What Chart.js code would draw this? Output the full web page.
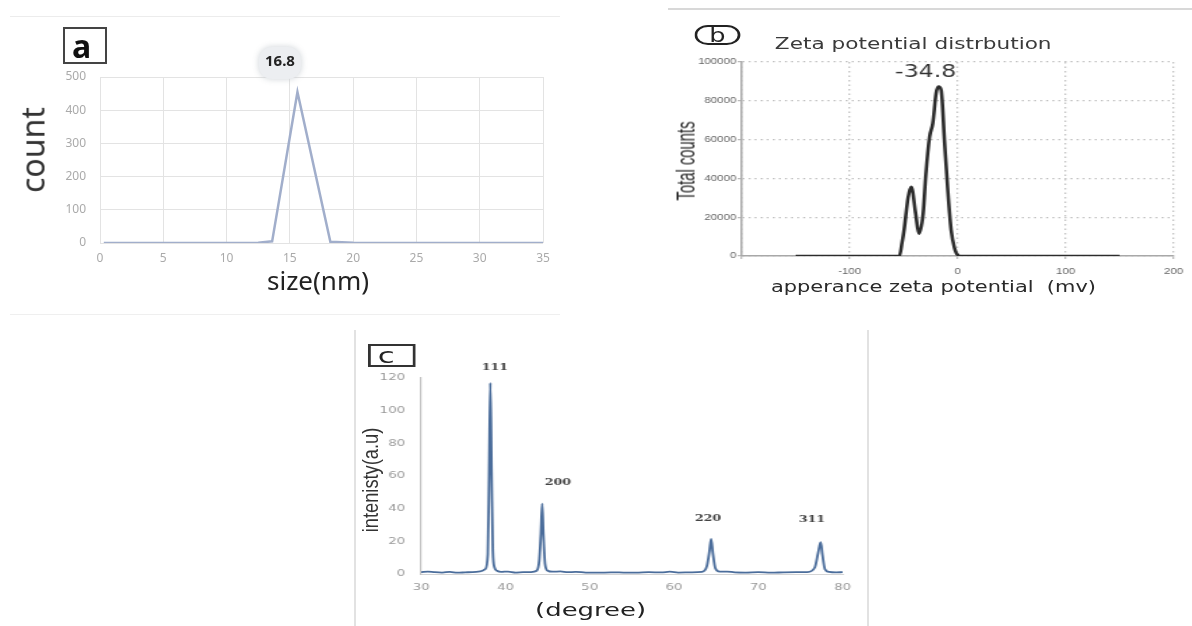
<!DOCTYPE html>
<html>
<head>
<meta charset="utf-8">
<script src="https://cdn.jsdelivr.net/npm/chart.js@4.4.1/dist/chart.umd.min.js"></script>
<style>
  html, body { margin: 0; padding: 0; background: #fff; }
  body { width: 1192px; height: 626px; position: relative; overflow: hidden; }
  .panel { position: absolute; transform-origin: 0 0; }
  .panel canvas { position: absolute; left: 0; top: 0; }
  .txt { position: absolute; white-space: nowrap; line-height: 1; }
  .rule { position: absolute; }
  .tag { position: absolute; box-sizing: border-box; display: flex; align-items: center; }
</style>
</head>
<body>

<!-- faint frame lines of the composite figure -->
<div class="rule" style="left:10px;top:16px;width:550px;height:1px;background:#ececec"></div>
<div class="rule" style="left:10px;top:314px;width:550px;height:1px;background:#efefef"></div>
<div class="rule" style="left:668px;top:8px;width:524px;height:1.5px;background:#d8d8d8"></div>
<div class="rule" style="left:354px;top:330px;width:2px;height:296px;background:#e2e2e2"></div>
<div class="rule" style="left:867px;top:330px;width:2px;height:296px;background:#e2e2e2"></div>

<!-- a : size distribution -->
<div class="panel" id="pa" style="left:0;top:0;width:560px;height:320px">
  <canvas id="chartA" width="560" height="320"></canvas>
  <div class="tag" style="left:63px;top:27px;width:44px;height:37px;border:2px solid #444;padding-left:7px;font:bold 32px 'Noto Sans';color:#111">a</div>
  <div class="txt" style="left:32px;top:150px;transform:translate(-50%,-50%) rotate(-90deg);font:32px 'Noto Sans';color:#333">count</div>
  <div class="txt" style="left:318px;top:280px;transform:translate(-50%,-50%);font:26px 'Noto Sans';color:#222">size(nm)</div>
</div>

<!-- b : zeta potential (source figure is stretched horizontally) -->
<div class="panel" id="pb" style="left:600px;top:0;width:440px;height:320px;transform:scaleX(1.35)">
  <canvas id="chartB" width="440" height="320"></canvas>
  <div class="tag" style="left:70px;top:25px;width:34px;height:20px;border:2.5px solid #222;border-radius:10px;justify-content:center;font:19px 'DejaVu Sans';color:#222">b</div>
  <div class="txt" style="left:232px;top:43px;transform:translate(-50%,-50%);font:16px 'DejaVu Sans';color:#3a3a3a">Zeta potential distrbution</div>
  <div class="txt" style="left:64px;top:161px;transform:translate(-50%,-50%) rotate(-90deg) scaleX(0.78);font:19px 'Liberation Sans';color:#2e2e2e">Total counts</div>
  <div class="txt" style="left:247px;top:287px;transform:translate(-50%,-50%);font:15.5px 'DejaVu Sans';color:#2a2a2a">apperance zeta potential&nbsp;&nbsp;(mv)</div>
</div>

<!-- c : XRD pattern (source figure is stretched horizontally) -->
<div class="panel" id="pc" style="left:340px;top:320px;width:386px;height:306px;transform:scaleX(1.4)">
  <canvas id="chartC" width="386" height="306"></canvas>
  <div class="tag" style="left:20px;top:24px;width:34px;height:23px;border:2px solid #333;padding-left:5px;font:22px 'DejaVu Sans';color:#222">c</div>
  <div class="txt" style="left:22px;top:160px;transform:translate(-50%,-50%) rotate(-90deg) scaleX(1.14);font:16px 'Liberation Sans';color:#333">intenisty(a.u)</div>
  <div class="txt" style="left:179px;top:289px;transform:translate(-50%,-50%);font:18.5px 'DejaVu Sans';color:#222">(degree)</div>
</div>

<script>
// ---- data ----

// (a) particle size distribution
const sizeNm = [0.3, 5, 10, 12.5, 13.6, 15.6, 18.2, 20, 25, 30, 35];
const sizeCount = [0, 0, 0, 1, 5, 455, 4, 1, 0, 0, 0];
const sizePeakLabel = '16.8';

// (b) zeta potential distribution
const zetaMv = [-150, -54, -51.5, -49.5, -46, -43, -39, -36, -32, -29.5, -26, -23, -20, -17.8, -15.3, -12.3, -9.2, -6.1, -3, 0, 3, 150];
const zetaCounts = [0, 0, 7000, 14000, 30000, 35700, 22000, 11500, 22000, 42000, 61500, 68500, 83800, 87300, 85500, 59800, 34000, 13400, 4100, 500, 0, 0];
const zetaPeakLabel = '-34.8';

// (c) XRD pattern
const xrdDeg = [30, 30.8, 31.6, 32.5, 33.4, 34.3, 35.2, 36.1, 37.0, 37.6,
  37.9, 38.05, 38.2, 38.35, 38.5, 38.7, 39.0, 39.5, 40.3, 41.2,
  42.1, 43.0, 43.7, 44.0, 44.2, 44.35, 44.5, 44.7, 45.0, 45.6,
  46.5, 47.4, 48.3, 49.5, 51, 52.5, 54, 55.5, 57, 58.5,
  59.5, 60.5, 62, 63.3, 63.9, 64.2, 64.4, 64.6, 64.9, 65.4,
  66.3, 67.2, 68.5, 70, 71.5, 73, 74.5, 75.8, 76.7, 77.1,
  77.4, 77.6, 77.9, 78.4, 79.2, 80];
const xrdInt = [1.2, 1.5, 1.1, 0.9, 1.3, 0.8, 1.0, 1.2, 1.6, 3,
  12, 60, 117, 62, 14, 4, 2, 1.3, 1.5, 0.9,
  1.1, 1.2, 2, 8, 25, 43, 24, 6, 2, 1.4,
  1.6, 1.1, 1.3, 0.9, 0.8, 1.0, 0.9, 0.8, 1.1, 1.0,
  1.4, 0.9, 1.0, 1.3, 5, 14, 21.5, 13, 3.5, 1.4,
  1.5, 1.0, 0.9, 1.1, 0.8, 1.0, 1.1, 1.2, 4, 13,
  19.5, 12, 3, 1.3, 1.0, 1.1];
const peakHkl = ['111', '200', '220', '311'];
const peakDeg = [38.2, 44.35, 64.4, 77.4];
const peakInt = [117, 43, 21.5, 19.5];

// ---- helpers ----
const toXY = (xs, ys) => xs.map((v, i) => ({ x: v, y: ys[i] }));

// draws small text notes anchored on data points (with pixel offsets)
const notesPlugin = {
  id: 'notes',
  afterDatasetsDraw(chart, args, opts) {
    const { ctx, scales: { x, y } } = chart;
    (opts.items || []).forEach(it => {
      const px = x.getPixelForValue(it.x) + (it.dx || 0);
      const py = y.getPixelForValue(it.y) + (it.dy || 0);
      ctx.save();
      if (it.bubble) {
        const b = it.bubble;
        ctx.shadowColor = 'rgba(200,205,210,0.9)';
        ctx.shadowBlur = 6;
        ctx.fillStyle = b.color;
        ctx.beginPath();
        ctx.roundRect(px - b.w / 2, py - b.h / 2 + 1, b.w, b.h, b.r);
        ctx.fill();
        ctx.shadowBlur = 0;
      }
      ctx.font = it.font;
      ctx.fillStyle = it.color;
      ctx.textAlign = 'center';
      ctx.textBaseline = 'middle';
      ctx.fillText(it.text, px, py);
      ctx.restore();
    });
  }
};

function fixWidth(w) { return s => { s.width = w; }; }
function fixHeight(h) { return s => { s.height = h; }; }
const plain = v => String(v);

const baseOpts = {
  responsive: false,
  animation: false,
  events: [],
  elements: { point: { radius: 0 } },
};

// ---- (a) ----
new Chart(document.getElementById('chartA'), {
  type: 'line',
  data: {
    datasets: [{
      data: toXY(sizeNm, sizeCount),
      borderColor: '#a1aecb',
      borderWidth: 2.5,
      tension: 0
    }]
  },
  options: {
    ...baseOpts,
    layout: { padding: { top: 77, right: 17, left: 0, bottom: 0 } },
    plugins: {
      legend: { display: false },
      tooltip: { enabled: false },
      notes: {
        items: [{
          text: sizePeakLabel, x: sizeNm[5], y: sizeCount[5], dx: -17.5, dy: -30,
          font: 'bold 15px "Noto Sans"', color: '#222',
          bubble: { w: 42, h: 32, r: 13, color: '#eceef1' }
        }]
      }
    },
    scales: {
      x: {
        type: 'linear', min: 0, max: 35,
        ticks: { stepSize: 5, padding: 8, color: '#aaa', font: { family: 'Noto Sans', size: 12 } },
        grid: { color: '#e3e3e3', drawTicks: false },
        border: { display: false },
        afterFit: fixHeight(77)
      },
      y: {
        min: 0, max: 500,
        ticks: { stepSize: 100, padding: 14, color: '#aaa', font: { family: 'Noto Sans', size: 12 } },
        grid: { color: '#e3e3e3', drawTicks: false },
        border: { display: false },
        afterFit: fixWidth(100)
      }
    }
  },
  plugins: [notesPlugin]
});

// ---- (b) ----
const dotted = { display: true, color: '#a8a8a8', width: 1.5, dash: [1.5, 3] };
new Chart(document.getElementById('chartB'), {
  type: 'line',
  data: {
    datasets: [{
      data: toXY(zetaMv, zetaCounts),
      borderColor: '#2c2c2c',
      borderWidth: 2.6,
      cubicInterpolationMode: 'monotone'
    }]
  },
  options: {
    ...baseOpts,
    layout: { padding: { top: 62, right: 13, left: 0, bottom: 0 } },
    plugins: {
      legend: { display: false },
      tooltip: { enabled: false },
      notes: {
        items: [{
          text: zetaPeakLabel, x: zetaMv[13], y: zetaCounts[13], dx: -9.5, dy: -14,
          font: '17.5px "DejaVu Sans"', color: '#333'
        }]
      }
    },
    scales: {
      x: {
        type: 'linear', min: -200, max: 200,
        ticks: {
          stepSize: 100, padding: 8, color: '#666',
          font: { family: 'Liberation Sans', size: 8.5 },
          callback: v => (v === -200 ? '' : plain(v))
        },
        grid: { color: '#c2c2c2', lineWidth: 1.3, tickLength: 3, tickColor: '#bbb' },
        border: dotted,
        afterFit: fixHeight(64)
      },
      y: {
        min: 0, max: 100000,
        ticks: { stepSize: 20000, padding: 1, color: '#666', font: { family: 'Liberation Sans', size: 8.5 }, callback: plain },
        grid: { color: '#c2c2c2', lineWidth: 1.3, tickLength: 3, tickColor: '#bbb' },
        border: dotted,
        afterFit: fixWidth(105)
      }
    }
  },
  plugins: [notesPlugin]
});

// ---- (c) ----
const hklOffsets = [[3.3, -15], [11.3, -21], [-2.2, -20], [-6.2, -22]];
new Chart(document.getElementById('chartC'), {
  type: 'line',
  data: {
    datasets: [{
      data: toXY(xrdDeg, xrdInt),
      borderColor: '#4b6d9b',
      borderWidth: 1.8,
      cubicInterpolationMode: 'monotone'
    }]
  },
  options: {
    ...baseOpts,
    layout: { padding: { top: 58, right: 27, left: 0, bottom: 0 } },
    plugins: {
      legend: { display: false },
      tooltip: { enabled: false },
      notes: {
        items: peakHkl.map((t, i) => ({
          text: t, x: peakDeg[i], y: peakInt[i],
          dx: hklOffsets[i][0], dy: hklOffsets[i][1],
          font: 'bold 9px "DejaVu Serif"', color: '#444'
        }))
      }
    },
    scales: {
      x: {
        type: 'linear', min: 30, max: 80,
        ticks: { stepSize: 10, padding: 8, color: '#999', font: { family: 'DejaVu Sans', size: 9.5 } },
        grid: { display: false, drawTicks: false },
        border: { display: true, color: '#d4d4d4', width: 1 },
        afterFit: fixHeight(52)
      },
      y: {
        min: 0, max: 120,
        ticks: { stepSize: 20, padding: 11.5, color: '#999', font: { family: 'DejaVu Sans', size: 9.5 } },
        grid: { display: false, drawTicks: false },
        border: { display: true, color: '#c4c4c4', width: 1.2 },
        afterFit: fixWidth(58)
      }
    }
  },
  plugins: [notesPlugin]
});
</script>
</body>
</html>
